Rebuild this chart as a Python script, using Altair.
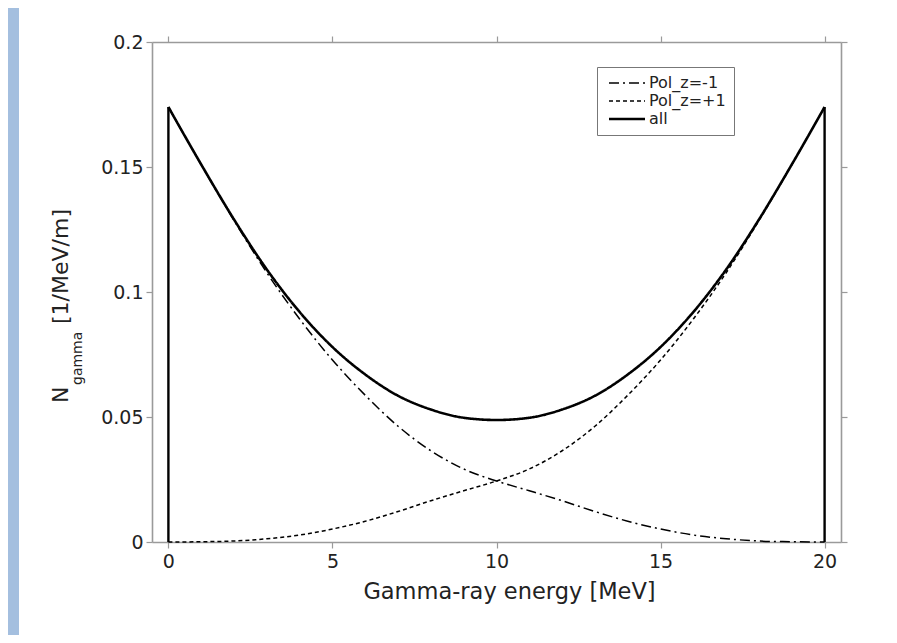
import altair as alt
import pandas as pd

# ---- data ----
energy = list(range(0, 21))
pol_minus = [0.174, 0.1509, 0.1286, 0.1077, 0.0892, 0.0728, 0.0587, 0.0463, 0.0365, 0.0292, 0.0244,
             0.0205, 0.0165, 0.0122, 0.0083, 0.0052, 0.0028, 0.0013, 0.0004, 0.0001, 0.0]
pol_plus = [0.0, 0.0001, 0.0004, 0.0013, 0.0028, 0.0052, 0.0083, 0.0122, 0.0165, 0.0205, 0.0244,
            0.0292, 0.0365, 0.0463, 0.0587, 0.0728, 0.0892, 0.1077, 0.1286, 0.1509, 0.174]
all_pol = [0.174, 0.151, 0.129, 0.109, 0.092, 0.078, 0.067, 0.0585, 0.053, 0.0497, 0.0488,
           0.0497, 0.053, 0.0585, 0.067, 0.078, 0.092, 0.109, 0.129, 0.151, 0.174]
series_names = ["Pol_z=-1", "Pol_z=+1", "all"]
edge_energy = [0, 20]
edge_top = [0.174, 0.174]
x_ticks = [0, 5, 10, 15, 20]
y_ticks = [0, 0.05, 0.1, 0.15, 0.2]

rows = []
for name, vals in zip(series_names, [pol_minus, pol_plus, all_pol]):
    for e, v in zip(energy, vals):
        rows.append({"E": e, "N": v, "series": name})
df = pd.DataFrame(rows)
edge_df = pd.DataFrame({"E": edge_energy, "N": edge_top, "zero": [0, 0]})
one = pd.DataFrame({"a": [0]})

W, H = 689, 500
FONT = "DejaVu Sans"
GRAY = "#9a9a9a"

xscale = alt.Scale(domain=[-0.5, 20.5], nice=False, zero=False)
yscale = alt.Scale(domain=[0, 0.2], nice=False)

leg = alt.Legend(
    title=None, orient="none", legendX=445, legendY=25,
    symbolType="M-1,0H8", symbolSize=64, labelFont=FONT, labelFontSize=16,
    labelColor="#222", strokeColor="#777", fillColor="white", padding=8,
    rowPadding=2, labelOffset=28, symbolFillColor="transparent",
)
color = alt.Color("series:N", scale=alt.Scale(domain=series_names, range=["black", "black", "black"]), legend=leg)
dash = alt.StrokeDash("series:N", scale=alt.Scale(domain=series_names, range=[[10, 4, 2, 4], [4, 3], [1, 0]]), legend=leg)
width = alt.StrokeWidth("series:N", scale=alt.Scale(type="ordinal", domain=series_names, range=[1.5, 1.5, 2.6]), legend=leg)

common_axis = dict(domainColor=GRAY, tickColor=GRAY, domainWidth=1.6, tickWidth=1.2, tickSize=6,
                   grid=False, labelFont=FONT, labelColor="#222", titleFont=FONT, titleColor="#222",
                   titleFontWeight="normal")

bottom_axis = alt.Axis(values=x_ticks, orient="bottom", labelFontSize=19, labelPadding=4,
                       title="Gamma-ray energy [MeV]", titleFontSize=22.5, titlePadding=9,
                       titleX=357, titleAnchor="middle", **common_axis)
left_axis = alt.Axis(values=y_ticks, orient="left", format="~g", labelFontSize=19, labelPadding=3,
                     title=None, **common_axis)
top_axis = alt.Axis(values=x_ticks, orient="top", labels=False, title=None, **common_axis)
right_axis = alt.Axis(values=y_ticks, orient="right", labels=False, title=None, **common_axis)

strip = alt.Chart(one).mark_rect(color="#a4bfdf").encode(
    x=alt.value(-144), x2=alt.value(-133), y=alt.value(-34), y2=alt.value(H + 93)
)

lines = alt.Chart(df).mark_line(interpolate="monotone").encode(
    x=alt.X("E:Q", scale=xscale, axis=bottom_axis),
    y=alt.Y("N:Q", scale=yscale, axis=left_axis),
    color=color, strokeDash=dash, strokeWidth=width,
)

edges = alt.Chart(edge_df).mark_rule(color="black", strokeWidth=2.4).encode(
    x=alt.X("E:Q", scale=xscale, axis=top_axis),
    y=alt.Y("zero:Q", scale=yscale, axis=right_axis),
    y2="N:Q",
)

t_n = alt.Chart(one).mark_text(text="N", angle=270, align="left", baseline="alphabetic",
                               fontSize=22, font=FONT, color="#222").encode(x=alt.value(-84), y=alt.value(361))
t_sub = alt.Chart(one).mark_text(text="gamma", angle=270, align="left", baseline="alphabetic",
                                 fontSize=14, font=FONT, color="#222").encode(x=alt.value(-70), y=alt.value(343))
t_unit = alt.Chart(one).mark_text(text="[1/MeV/m]", angle=270, align="left", baseline="alphabetic",
                                  fontSize=22, font=FONT, color="#222").encode(x=alt.value(-84), y=alt.value(282))

chart = alt.layer(strip, lines, edges, t_n, t_sub, t_unit).resolve_axis(
    x="independent", y="independent"
).properties(
    width=W, height=H,
    autosize=alt.AutoSizeParams(type="none"),
    padding={"left": 144, "top": 34, "right": 48, "bottom": 93},
    background="white",
).configure_view(stroke=None)

chart.save("out.html", embed_options={"renderer": "svg", "actions": False})
